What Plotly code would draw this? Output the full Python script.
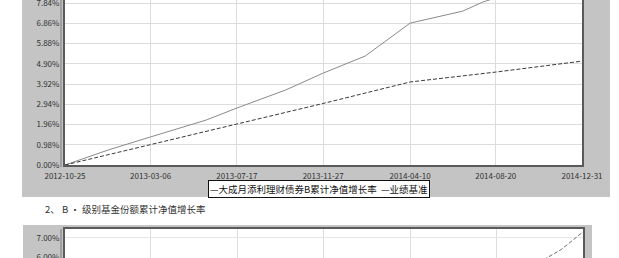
import plotly.graph_objects as go

# ---- data ----
fund_dates = ["2012-10-25", "2012-12-31", "2013-03-06", "2013-05-31", "2013-07-17",
              "2013-09-30", "2013-11-27", "2014-01-31", "2014-04-10", "2014-06-30",
              "2014-07-31", "2014-09-30", "2014-12-31"]
fund_values = [0.00, 0.73, 1.36, 2.18, 2.76, 3.63, 4.45, 5.28, 6.87, 7.45, 7.89, 8.50, 9.30]

bench_dates = ["2012-10-25", "2013-03-06", "2013-07-17", "2013-11-27", "2014-04-10",
               "2014-08-20", "2014-12-31"]
bench_values = [0.00, 0.99, 1.98, 2.98, 4.02, 4.50, 5.03]

b_dates = ["2012-10-25", "2013-03-06", "2013-07-17", "2013-11-27", "2014-04-10",
           "2014-08-20", "2014-10-31", "2014-11-28", "2014-12-31"]
b_values = [0.00, 1.10, 2.20, 3.10, 4.30, 5.30, 5.85, 6.40, 7.30]

x_tick_dates = ["2012-10-25", "2013-03-06", "2013-07-17", "2013-11-27",
                "2014-04-10", "2014-08-20", "2014-12-31"]
y_ticks = [0.00, 0.98, 1.96, 2.94, 3.92, 4.90, 5.88, 6.86, 7.84]
y_ticks2 = [6.00, 7.00]

fund_name = "大成月添利理财债券B累计净值增长率"
bench_name = "业绩基准"
caption = "2、 B · 级别基金份额累计净值增长率"

W, H = 619, 258
FONT = "Noto Sans CJK SC"
GRAY = "#c4c4c4"

def px(x):
    return x / W

def py(y):
    return 1 - y / H

fig = go.Figure()
fig.add_trace(go.Scatter(x=fund_dates, y=fund_values, mode="lines", name=fund_name,
                         line=dict(color="#8a8a8a", width=1), xaxis="x", yaxis="y"))
fig.add_trace(go.Scatter(x=bench_dates, y=bench_values, mode="lines", name=bench_name,
                         line=dict(color="#3a3a3a", width=1, dash="4px,2px"), xaxis="x", yaxis="y"))
fig.add_trace(go.Scatter(x=b_dates, y=b_values, mode="lines", name="B",
                         line=dict(color="#6a6a6a", width=1, dash="4px,2px"), xaxis="x2", yaxis="y2"))

tickfont = dict(family=FONT, size=8, color="#333333")
common = dict(automargin=False, ticks="", zeroline=False, showline=True,
              linecolor="#5a5a5a", linewidth=2, mirror=True, tickfont=tickfont)

fig.update_layout(
    width=W, height=H,
    margin=dict(l=0, r=0, t=0, b=0),
    paper_bgcolor="white",
    plot_bgcolor="white",
    showlegend=False,
    xaxis=dict(domain=[px(65), px(582)], type="date",
               range=["2012-10-25", "2014-12-31"],
               tickvals=x_tick_dates, ticktext=x_tick_dates,
               showgrid=True, gridcolor="#dcdcdc", anchor="y",
               ticklabelstandoff=2, **common),
    yaxis=dict(domain=[py(165), 1], range=[0, 7.99],
               tickvals=y_ticks, ticktext=[f"{v:.2f}%" for v in y_ticks],
               showgrid=True, gridcolor="#dcdcdc", anchor="x",
               ticklabeloverflow="allow", ticklabelstandoff=2, **common),
    xaxis2=dict(domain=[px(65), px(583)], type="date",
                range=["2012-10-25", "2014-12-31"],
                tickvals=x_tick_dates, showticklabels=False,
                showgrid=True, gridcolor="#dcdcdc", anchor="y2", **common),
    yaxis2=dict(domain=[0, py(229)], range=[5.95, 7.45],
                tickvals=y_ticks2, ticktext=[f"{v:.2f}%" for v in y_ticks2],
                showgrid=True, gridcolor="#e6e6e6", anchor="x2",
                ticklabeloverflow="allow", ticklabelstandoff=2, **common),
)

shapes = [
    # grey panels
    dict(type="rect", xref="paper", yref="paper", x0=px(22), x1=px(610), y0=py(197), y1=1,
         fillcolor=GRAY, line=dict(width=0), layer="below"),
    dict(type="rect", xref="paper", yref="paper", x0=px(23), x1=px(592), y0=0, y1=py(225),
         fillcolor=GRAY, line=dict(width=0), layer="below"),
    # white plot areas
    dict(type="rect", xref="paper", yref="paper", x0=px(65), x1=px(582), y0=py(165), y1=1,
         fillcolor="white", line=dict(width=0), layer="below"),
    dict(type="rect", xref="paper", yref="paper", x0=px(65), x1=px(583), y0=0, y1=py(229),
         fillcolor="white", line=dict(width=0), layer="below"),
    # double-line left edge
    dict(type="line", xref="paper", yref="paper", x0=px(61), x1=px(61), y0=py(167), y1=1,
         line=dict(color="#7a7a7a", width=1)),
    dict(type="line", xref="paper", yref="paper", x0=px(61), x1=px(61), y0=0, y1=py(229),
         line=dict(color="#7a7a7a", width=1)),
]
fig.update_layout(shapes=shapes)

fig.add_annotation(xref="paper", yref="paper", x=px(318.5), y=py(188.5),
                   xanchor="center", yanchor="middle", showarrow=False,
                   text=f"—{fund_name}  —{bench_name}",
                   font=dict(family=FONT, size=9.5, color="#111111"),
                   bgcolor="white", bordercolor="#111111", borderwidth=1, borderpad=1)
fig.add_annotation(xref="paper", yref="paper", x=px(43), y=py(209),
                   xanchor="left", yanchor="middle", showarrow=False,
                   text=caption,
                   font=dict(family=FONT, size=9.5, color="#333333"))

fig.write_html("out.html",
               config={"displayModeBar": False},
               post_script="document.body.style.margin='0';document.body.style.overflow='hidden';")
